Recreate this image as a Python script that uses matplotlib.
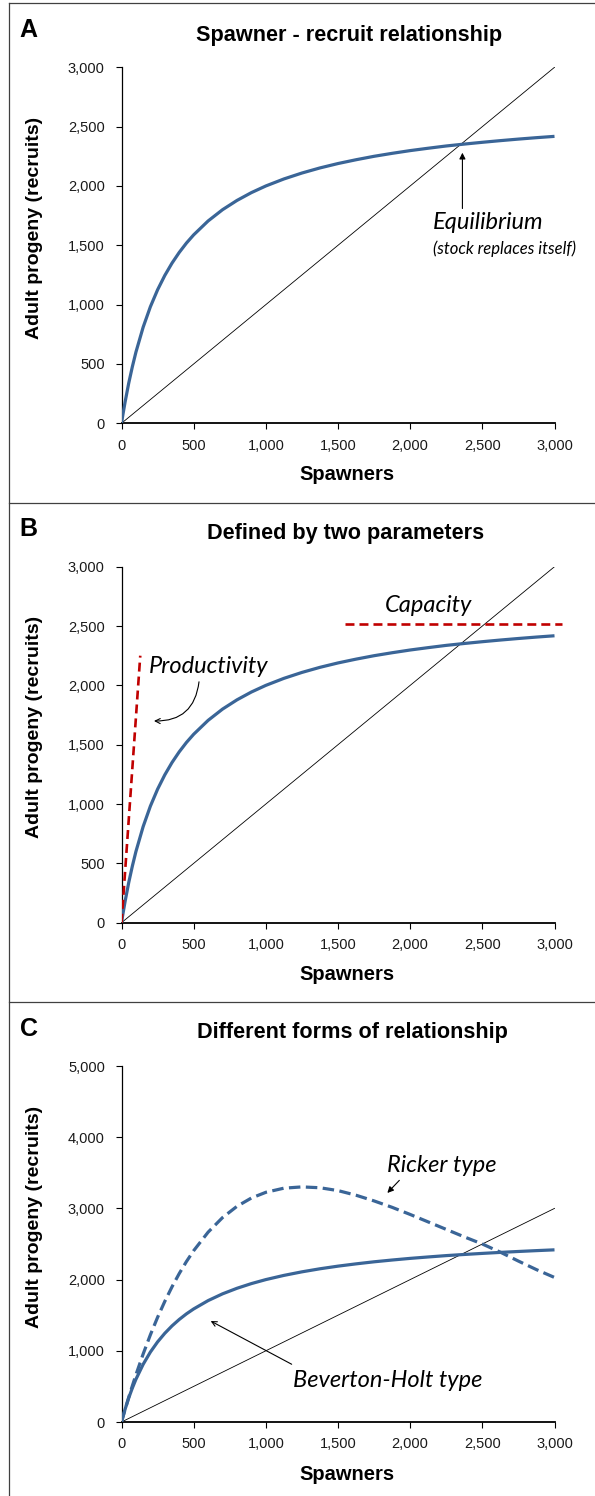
import matplotlib
matplotlib.use("Agg")
import matplotlib.pyplot as plt
from matplotlib.ticker import FuncFormatter, MultipleLocator
from matplotlib.lines import Line2D

# waarden
spawners = [0, 10, 25, 50, 75, 100, 150, 200, 250, 300, 350, 400, 450, 500,
            600, 700, 800, 900, 1000, 1125, 1250, 1375, 1500, 1625, 1750,
            1875, 2000, 2125, 2250, 2375, 2500, 2625, 2750, 2875, 3000]
beverton_holt = [0, 75, 180, 338, 476, 600, 810, 982, 1125, 1246, 1350,
                 1440, 1519, 1588, 1705, 1800, 1878, 1944, 2000, 2059, 2109,
                 2152, 2189, 2221, 2250, 2275, 2298, 2318, 2337, 2353, 2368,
                 2382, 2395, 2407, 2418]
ricker = [0, 71, 176, 345, 507, 663, 955, 1224, 1470, 1694, 1899, 2085,
          2254, 2406, 2666, 2871, 3029, 3146, 3226, 3284, 3302, 3290, 3250,
          3185, 3105, 3015, 2915, 2810, 2705, 2600, 2500, 2385, 2260, 2140,
          2030]
replacement_x = [0, 3000]
replacement_y = [0, 3000]
productivity_x = [0, 130]
productivity_y = [0, 2250]
capacity_x = [1550, 3050]
capacity_y = [2520, 2520]

titles = ["Spawner - recruit relationship", "Defined by two parameters",
          "Different forms of relationship"]
letters = ["A", "B", "C"]
y_max = [3000, 3000, 5000]
y_step = [500, 500, 1000]

W, H = 595, 1496
BLUE = "#3a6597"
RED = "#c00000"
ARIAL = "Liberation Sans"
CALIBRI = ["Lato", "DejaVu Sans"]

fig = plt.figure(figsize=(W / 100, H / 100), dpi=100)


def fx(px):
    return px / W


def fy(py):
    return 1 - py / H


# panelranden
border = "#404040"
fig.add_artist(Line2D([fx(9), fx(9)], [fy(3.3), 0], color=border, lw=0.9))
for yy in [3.3, 502.5, 1002]:
    fig.add_artist(Line2D([fx(9), 1], [fy(yy), fy(yy)], color=border, lw=0.9))

axes_top = [67.3, 566.7, 1066.0]
title_y = [35, 533.3, 1032.7]
title_x = [349.5, 346, 352.4]
ylabel_y = [227.5, 726.5, 1217]
xlabel_y = [475, 975, 1475]
offsets = [0, 499, 998.5]

axes = []
for i in range(3):
    top = axes_top[i]
    ax = fig.add_axes([fx(121.5), fy(top + 356), (554.5 - 121.5) / W, 356 / H])
    ax.set_xlim(0, 3000)
    ax.set_ylim(0, y_max[i])
    ax.xaxis.set_major_locator(MultipleLocator(500))
    ax.yaxis.set_major_locator(MultipleLocator(y_step[i]))
    fmt = FuncFormatter(lambda v, p: f"{int(v):,}")
    ax.xaxis.set_major_formatter(fmt)
    ax.yaxis.set_major_formatter(fmt)
    for s in ["top", "right"]:
        ax.spines[s].set_visible(False)
    ax.spines["left"].set_linewidth(0.9)
    ax.spines["bottom"].set_linewidth(1.3)
    ax.tick_params(direction="out", length=4, width=0.8, labelsize=10.5,
                   labelcolor="#1a1a1a")
    ax.tick_params(axis="x", pad=7)
    ax.tick_params(axis="y", pad=8)
    for lab in ax.get_xticklabels() + ax.get_yticklabels():
        lab.set_family(ARIAL)

    ax.plot(replacement_x, replacement_y, color="black", lw=0.6)
    ax.plot(spawners, beverton_holt, color=BLUE, lw=2.3,
            solid_capstyle="butt", solid_joinstyle="round", zorder=3)

    fig.text(fx(title_x[i]), fy(title_y[i]), titles[i], ha="center",
             va="center", fontsize=15.6, fontweight="bold", family=ARIAL)
    fig.text(fx(28.5), fy(30 + offsets[i]), letters[i], ha="center",
             va="center", fontsize=18, fontweight="bold", family=ARIAL)
    fig.text(fx(35), fy(ylabel_y[i]), "Adult progeny (recruits)",
             rotation=90, ha="center", va="center", fontsize=14,
             fontweight="bold", family=ARIAL)
    fig.text(fx(347), fy(xlabel_y[i]), "Spawners", ha="center", va="center",
             fontsize=14.5, fontweight="bold", family=ARIAL)
    axes.append(ax)

arrow = dict(arrowstyle="-|>", color="black", lw=0.8, mutation_scale=9,
             shrinkA=0, shrinkB=0)

# paneel A
ax = axes[0]
ax.annotate("", xy=(2362, 2280), xytext=(2362, 1810), arrowprops=arrow)
ax.text(2159, 1688, "Equilibrium", style="italic", fontsize=17,
        family=CALIBRI, ha="left", va="center")
ax.text(2157, 1468, "(stock replaces itself)", style="italic", fontsize=12,
        family=CALIBRI, ha="left", va="center", clip_on=False)

# paneel B
ax = axes[1]
ax.plot(productivity_x, productivity_y, color=RED, lw=1.9,
        dashes=(3.4, 1.9), zorder=4)
ax.plot(capacity_x, capacity_y, color=RED, lw=1.9, dashes=(3.4, 1.9),
        clip_on=False, zorder=4)
ax.text(190, 2163, "Productivity", style="italic", fontsize=17,
        family=CALIBRI, ha="left", va="center")
ax.text(1826, 2676, "Capacity", style="italic", fontsize=17,
        family=CALIBRI, ha="left", va="center")
ax.annotate("", xy=(225, 1700), xytext=(537, 2030),
            arrowprops=dict(arrow, arrowstyle="->",
                            connectionstyle="arc3,rad=-0.45"))

# paneel C
ax = axes[2]
ax.plot(spawners, ricker, color=BLUE, lw=2.3, dashes=(3.6, 1.7), zorder=3)
ax.text(1840, 3601, "Ricker type", style="italic", fontsize=17,
        family=CALIBRI, ha="left", va="center")
ax.annotate("", xy=(1842, 3217), xytext=(1925, 3394), arrowprops=arrow)
ax.text(1186, 587, "Beverton-Holt type", style="italic", fontsize=17,
        family=CALIBRI, ha="left", va="center")
ax.annotate("", xy=(618, 1418), xytext=(1179, 811),
            arrowprops=dict(arrow, arrowstyle="->"))

fig.savefig("out.png", dpi=100)
